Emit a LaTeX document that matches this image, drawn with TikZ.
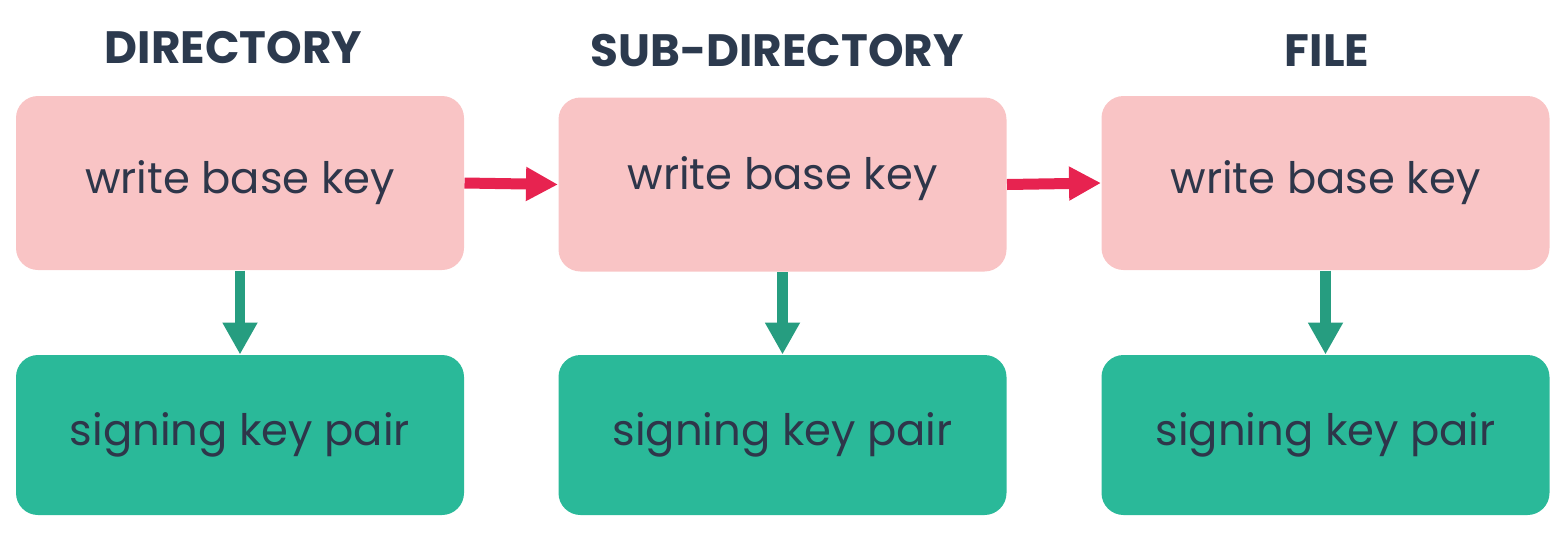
\documentclass[tikz,border=0pt]{standalone}
\usepackage{fontspec}
\setmainfont{Poppins}
\usetikzlibrary{arrows.meta}

\definecolor{keypink}{RGB}{249,196,197}
\definecolor{keygreen}{RGB}{42,185,153}
\definecolor{arrowred}{RGB}{231,35,80}
\definecolor{arrowgreen}{RGB}{38,157,128}
\definecolor{inkslate}{RGB}{46,54,74}
\definecolor{titleslate}{RGB}{44,58,78}

\tikzset{every picture/.style={line width=0.75pt}}
\tikzset{
  basebox/.style={fill=keypink, draw=none, rounded corners=16.5pt, minimum width=336pt, minimum height=130.5pt, text=inkslate, font=\fontsize{32.5}{36}\selectfont},
  signbox/.style={fill=keygreen, draw=none, rounded corners=16.5pt, minimum width=336pt, minimum height=120pt, text=inkslate, font=\fontsize{32.5}{36}\selectfont},
  levelhead/.style={text=titleslate, font=\fontsize{34}{38}\selectfont\bfseries, anchor=base},
  chainarrow/.style={draw=arrowred, line width=8.25pt, -{Triangle[length=24pt,width=24pt]}},
  signarrow/.style={draw=arrowgreen, line width=8pt, -{Triangle[length=24pt,width=24.75pt]}}
}

\begin{document}
\begin{tikzpicture}[x=0.75pt,y=0.75pt,yscale=-1,xscale=1]
	\path (0,0) rectangle (1559,533); %picture frame

	% Text Node
	\draw (233.5,63) node [levelhead] (hdir) {DIRECTORY};
	% Text Node
	\draw (777,66) node [levelhead] (hsub) {SUB-DIRECTORY};
	% Text Node
	\draw (1327,66) node [levelhead] (hfile) {FILE};

	%Rounded Rect: write base keys
	\draw (240,183) node [basebox] (wdir) {write base key};
	\draw (782.5,184.5) node [basebox, text depth=17pt] (wsub) {write base key};
	\draw (1325.5,183) node [basebox] (wfile) {write base key};

	%Rounded Rect: signing key pairs
	\draw (240,435) node [signbox] (sdir) {signing key pair};
	\draw (782.5,435) node [signbox] (ssub) {signing key pair};
	\draw (1325.5,435) node [signbox] (sfile) {signing key pair};

	%Straight Lines
	\draw [chainarrow] (wdir.east) -- (wsub.west) ;
	\draw [chainarrow] (wsub.east) -- (wfile.west) ;
	%Straight Lines
	\draw [signarrow] (wdir.south) -- (sdir.north) ;
	\draw [signarrow] (wsub.south) -- (ssub.north) ;
	\draw [signarrow] (wfile.south) -- (sfile.north) ;

\end{tikzpicture}
\end{document}
